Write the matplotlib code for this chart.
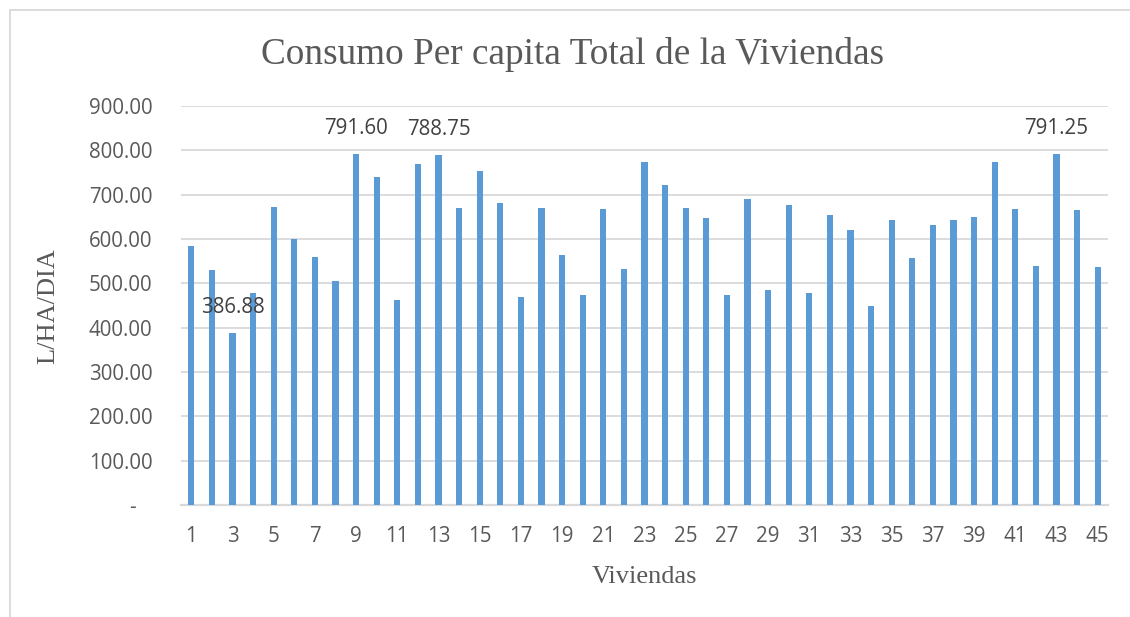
import matplotlib.pyplot as plt
from matplotlib.lines import Line2D

viviendas = list(range(1, 46))
consumo = [585, 530, 386.88, 479, 672, 600, 560, 506, 791.60, 739,
           463, 769, 788.75, 670, 753, 681, 469, 670, 564, 474,
           668, 533, 773, 722, 670, 647, 473, 690, 485, 677,
           478, 655, 621, 449, 643, 557, 631, 643, 649, 773,
           667, 540, 791.25, 665, 537]
etiquetas = {3: "386.88", 9: "791.60", 13: "788.75", 43: "791.25"}
yticks = [0, 100, 200, 300, 400, 500, 600, 700, 800, 900]

gris = "#595959"
serif = ["Liberation Serif", "DejaVu Serif"]
sans = ["Open Sans", "DejaVu Sans"]

fig = plt.figure(figsize=(11.3, 6.17), dpi=100)
ax = fig.add_axes([181/1130, 1-505/617, (1108-181)/1130, (505-106)/617])

ax.bar(viviendas, consumo, width=0.3, color="#5b9bd5", zorder=3)
ax.set_xlim(0.5, 45.5)
ax.set_ylim(0, 900)

ax.set_yticks(yticks)
ax.set_yticklabels(["-   " if v == 0 else f"{v:.2f}" for v in yticks],
                   fontsize=14.8, color=gris, family=sans)
ax.set_xticks(viviendas[::2])
ax.set_xticklabels([str(v) for v in viviendas[::2]],
                   fontsize=14.8, color=gris, family=sans)
ax.tick_params(axis="y", length=0, pad=20.5)
ax.tick_params(axis="x", length=0, pad=15)

ax.grid(axis="y", color="#d9d9d9", lw=1.3, zorder=0)
for s in ["top", "right", "left"]:
    ax.spines[s].set_visible(False)
ax.spines["bottom"].set_color("#d9d9d9")
ax.spines["bottom"].set_linewidth(1.6)

for k, txt in etiquetas.items():
    ax.annotate(txt, (k, consumo[k-1]), xytext=(0, 11), textcoords="offset points",
                ha="center", va="bottom", fontsize=14.8, color="#404040", family=sans)

fig.text(573/1130, 1-55/617, "Consumo Per capita Total de la Viviendas", ha="center", va="center",
         fontsize=26.8, color=gris, family=serif)
fig.text(48/1130, 1-306/617, "L/HA/DIA", rotation=90, ha="center", va="center",
         fontsize=19, color=gris, family=serif)
fig.text(644/1130, 1-577/617, "Viviendas", ha="center", va="center",
         fontsize=19, color=gris, family=serif)

# marco del grafico
fig.add_artist(Line2D([9.5/1130, 9.5/1130], [0, 1-10/617], color="#d9d9d9", lw=1.3))
fig.add_artist(Line2D([9.5/1130, 1], [1-10/617, 1-10/617], color="#d9d9d9", lw=1.3))

fig.savefig("out.png", dpi=100)
